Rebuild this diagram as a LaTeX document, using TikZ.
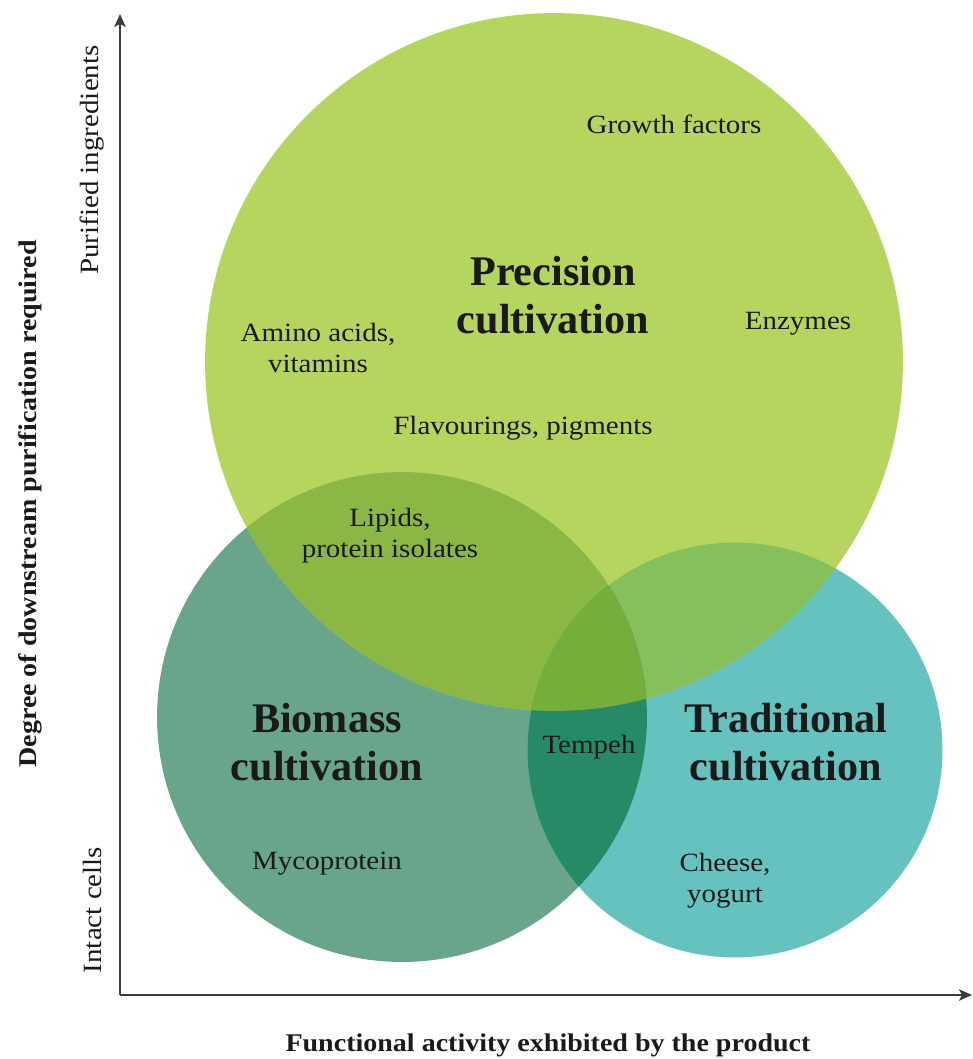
\documentclass[tikz,border=0pt]{standalone}
\usepackage{fontspec}
\setmainfont{Liberation Serif}
\newfontfamily\widefont[FakeStretch=1.1]{Liberation Serif}
\usepackage{tikz}
\usetikzlibrary{arrows.meta}

% fills of the three sets and of their overlaps
\definecolor{precfill}{HTML}{B5D55F}
\definecolor{biofill}{HTML}{68A58A}
\definecolor{tradfill}{HTML}{65C2BF}
\definecolor{pbfill}{HTML}{8BB745}
\definecolor{ptfill}{HTML}{86C05A}
\definecolor{btfill}{HTML}{268A67}
\definecolor{allfill}{HTML}{76AE3C}
\definecolor{ink}{HTML}{1A1A1A}

\tikzset{
  item/.style={text=ink, align=center, font=\widefont\fontsize{15}{17.5}\selectfont},
  title/.style={text=ink, align=center, font=\fontsize{24}{27.5}\selectfont\bfseries},
  axislabel/.style={text=ink, font=\widefont\fontsize{15}{17}\selectfont},
  axistitle/.style={text=ink, font=\widefont\fontsize{14.5}{16}\selectfont\bfseries},
  axis/.style={draw=ink!85, line width=0.75pt, -{Stealth[length=2.6mm,width=2.3mm,inset=0.6mm]}}
}

\begin{document}
\begin{tikzpicture}[x=0.02cm,y=-0.02cm]
\useasboundingbox (0,0) rectangle (973,1059);

\coordinate (prec) at (554,362);
\coordinate (bio) at (402,717);
\coordinate (trad) at (735,750);
\def\rprec{6.98cm}
\def\rbio{4.9cm}
\def\rtrad{4.15cm}

% the three circles
\fill[biofill] (bio) circle (\rbio);
\fill[tradfill] (trad) circle (\rtrad);
\fill[precfill] (prec) circle (\rprec);

% overlaps
\begin{scope}
\clip (bio) circle (\rbio);
\fill[pbfill] (prec) circle (\rprec);
\end{scope}
\begin{scope}
\clip (trad) circle (\rtrad);
\fill[ptfill] (prec) circle (\rprec);
\end{scope}
\begin{scope}
\clip (trad) circle (\rtrad);
\fill[btfill] (bio) circle (\rbio);
\end{scope}
\begin{scope}
\clip (trad) circle (\rtrad);
\clip (bio) circle (\rbio);
\fill[allfill] (prec) circle (\rprec);
\end{scope}

% axes
\coordinate (origin) at (120,995);
\coordinate (ytip) at (120,14);
\coordinate (xtip) at (972,995);
\draw[axis] (origin) -- (ytip);
\draw[axis] (origin) -- (xtip);

\node[axislabel, rotate=90] (purified) at (92,160) {Purified ingredients};
\node[axislabel, rotate=90] (intact) at (92,910) {Intact cells};
\node[axistitle, rotate=90] (ytitle) at (30,504) {Degree of downstream purification required};
\node[axistitle] (xtitle) at (548,1045) {Functional activity exhibited by the product};

% set names
\node[title] (precname) at (553,295) {Precision\\cultivation};
\node[title] (bioname) at (327,742) {Biomass\\cultivation};
\node[title] (tradname) at (786,742) {Traditional\\cultivation};

% products
\node[item] (growth) at (674,124) {Growth factors};
\node[item] (amino) at (318,348) {Amino acids,\\vitamins};
\node[item] (enzymes) at (798,324) {Enzymes};
\node[item] (flavour) at (523,428) {Flavourings, pigments};
\node[item] (lipids) at (390,536) {Lipids,\\protein isolates};
\node[item] (tempeh) at (589,747) {Tempeh};
\node[item] (myco) at (327,864) {Mycoprotein};
\node[item] (cheese) at (725,881) {Cheese,\\yogurt};
\end{tikzpicture}
\end{document}
